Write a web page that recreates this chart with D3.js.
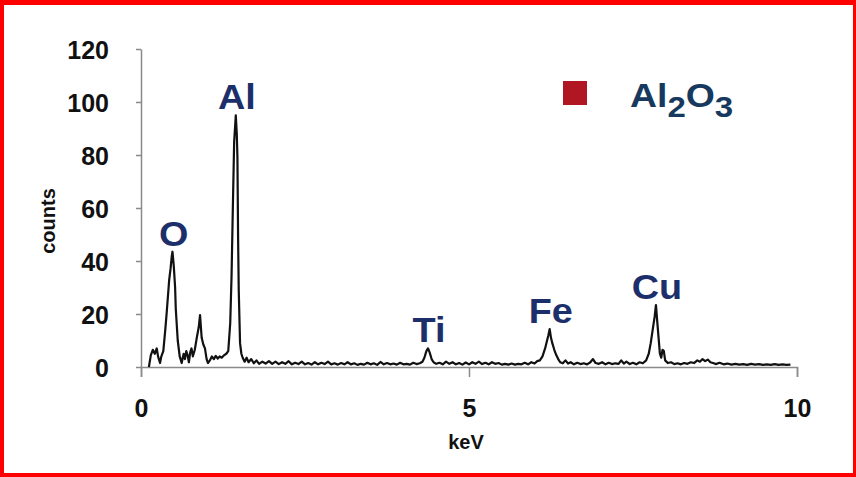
<!DOCTYPE html>
<html>
<head>
<meta charset="utf-8">
<script src="https://cdn.jsdelivr.net/npm/d3@7"></script>
<style>
  html, body { margin: 0; padding: 0; background: #fff; }
  svg { display: block; }
  text { font-family: "Liberation Sans", Arial, sans-serif; font-weight: bold; }
</style>
</head>
<body>
<svg id="chart" width="856" height="477"></svg>
<script>
// EDS spectrum of an Al2O3 sample: energy (keV) and detector counts
const energy = [
  0.12, 0.15, 0.18, 0.21, 0.24, 0.26, 0.29, 0.31, 0.34, 0.37, 0.39, 0.41, 0.43, 0.45, 0.47, 0.48,
  0.50, 0.52, 0.53, 0.56, 0.59, 0.62, 0.65, 0.67, 0.69, 0.71, 0.73, 0.75, 0.77, 0.79, 0.82, 0.85,
  0.88, 0.90, 0.925, 0.95, 0.975, 1.00, 1.02, 1.05, 1.08, 1.11, 1.14, 1.17, 1.20, 1.23, 1.27, 1.30,
  1.33, 1.36, 1.38, 1.40, 1.42, 1.445, 1.46, 1.47, 1.48, 1.49, 1.51, 1.53, 1.55, 1.58, 1.61, 1.64,
  1.68, 1.72, 1.76, 1.80, 1.85, 1.90, 1.95, 2.00, 2.05, 2.10, 2.15, 2.20, 2.25, 2.30, 2.35, 2.40,
  2.45, 2.50, 2.55, 2.60, 2.65, 2.70, 2.75, 2.80, 2.85, 2.90, 2.95, 3.00, 3.05, 3.10, 3.15, 3.20,
  3.25, 3.30, 3.35, 3.40, 3.45, 3.50, 3.55, 3.60, 3.65, 3.70, 3.75, 3.80, 3.85, 3.90, 3.95, 4.00,
  4.05, 4.10, 4.15, 4.20, 4.25, 4.29, 4.32, 4.35, 4.375, 4.40, 4.43, 4.46, 4.50, 4.55, 4.60, 4.65,
  4.70, 4.75, 4.80, 4.85, 4.90, 4.95, 5.00, 5.05, 5.10, 5.15, 5.20, 5.25, 5.30, 5.35, 5.40, 5.45,
  5.50, 5.55, 5.60, 5.65, 5.70, 5.75, 5.80, 5.85, 5.90, 5.95, 6.00, 6.04, 6.08, 6.12, 6.16, 6.19,
  6.21, 6.23, 6.25, 6.27, 6.30, 6.33, 6.36, 6.39, 6.43, 6.47, 6.51, 6.55, 6.60, 6.65, 6.70, 6.75,
  6.80, 6.85, 6.89, 6.93, 6.98, 7.03, 7.08, 7.13, 7.18, 7.23, 7.28, 7.32, 7.36, 7.40, 7.45, 7.50,
  7.55, 7.60, 7.65, 7.70, 7.74, 7.77, 7.80, 7.83, 7.85, 7.87, 7.89, 7.91, 7.93, 7.95, 7.97, 7.99,
  8.03, 8.08, 8.13, 8.18, 8.23, 8.28, 8.33, 8.38, 8.43, 8.48, 8.52, 8.56, 8.60, 8.64, 8.68, 8.72,
  8.76, 8.82, 8.88, 8.94, 9.00, 9.06, 9.12, 9.18, 9.24, 9.30, 9.36, 9.42, 9.48, 9.54, 9.60, 9.66,
  9.72, 9.78, 9.84, 9.90
];
const counts = [
  0.0, 4.5, 6.5, 5.0, 7.0, 4.0, 1.5, 4.0, 6.0, 14.0, 20.0, 26.5, 33.0, 37.0, 42.0, 43.5,
  38.0, 30.0, 22.0, 10.0, 4.0, 1.5, 5.0, 3.0, 6.0, 4.5, 1.8, 5.5, 7.0, 4.0, 6.5, 11.0,
  15.0, 19.6, 11.0, 8.5, 7.0, 3.0, 1.5, 2.5, 4.0, 3.0, 4.2, 3.2, 4.0, 3.5, 4.5, 5.0,
  6.0, 16.5, 34.0, 60.0, 85.0, 95.0, 88.0, 79.0, 49.0, 29.0, 9.0, 5.0, 3.5, 2.0, 3.5, 1.8,
  3.0, 1.4, 2.5, 1.2, 2.0, 1.3, 2.2, 1.2, 2.0, 1.1, 1.8, 1.2, 2.2, 1.0, 1.6, 1.1,
  2.0, 1.0, 1.5, 0.9, 1.8, 1.0, 1.6, 1.1, 2.0, 1.0, 1.4, 0.9, 1.5, 1.0, 1.8, 1.0,
  1.4, 0.8, 1.2, 0.9, 1.6, 1.0, 1.4, 0.8, 1.9, 1.0, 1.5, 1.0, 1.3, 0.9, 1.6, 1.0,
  1.2, 0.9, 1.6, 1.1, 1.4, 2.0, 3.5, 6.0, 7.0, 5.5, 3.0, 1.8, 1.2, 1.6, 1.0, 2.0,
  1.2, 1.8, 1.0, 1.5, 0.9, 1.7, 1.0, 1.8, 1.2, 2.0, 1.1, 1.6, 1.0, 1.8, 1.2, 1.5,
  0.9, 1.2, 0.9, 1.3, 0.9, 1.2, 1.0, 1.6, 1.0, 1.8, 1.3, 2.2, 2.5, 4.0, 7.0, 10.0,
  12.0, 14.3, 11.0, 9.0, 6.5, 4.5, 3.0, 1.8, 1.4, 2.5, 1.3, 1.8, 1.0, 1.6, 1.1, 1.4,
  1.0, 1.8, 3.0, 1.5, 1.2, 1.8, 1.0, 1.6, 1.1, 1.4, 1.2, 2.5, 1.3, 2.0, 1.1, 1.6,
  1.0, 1.8, 1.4, 2.5, 5.0, 9.0, 14.0, 19.0, 23.4, 17.0, 11.0, 5.0, 3.5, 6.5, 6.0, 2.5,
  1.5, 1.8, 1.1, 1.4, 1.0, 1.5, 1.2, 1.8, 1.5, 2.5, 2.0, 3.0, 2.2, 2.8, 1.8, 1.5,
  1.1, 1.6, 1.0, 1.3, 0.9, 1.2, 0.9, 1.1, 0.8, 1.2, 0.9, 1.1, 0.8, 1.0, 0.8, 1.1,
  0.8, 1.0, 0.8, 0.9
];

// Element peaks that get a label above them
const peakNames  = ["O", "Al", "Ti", "Fe", "Cu"];
const peakEnergy = [0.483, 1.445, 4.375, 6.23, 7.85];
const peakCounts = [43.5, 95, 7, 14.3, 23.4];

const xTicks = [0, 5, 10];
const yTicks = [0, 20, 40, 60, 80, 100, 120];
const xTitle = "keV";
const yTitle = "counts";
const legendParts = [["Al", false], ["2", true], ["O", false], ["3", true]];

const W = 856, H = 477;
const svg = d3.select("#chart");

svg.append("rect").attr("width", W).attr("height", H).attr("fill", "#fff");

const x = d3.scaleLinear().domain([0, 10]).range([141, 797]);
const y = d3.scaleLinear().domain([0, 120]).range([367, 49]);

const axisColor = "#8a8a8a";
const labelColor = "#1d2f6b";
const font = "Liberation Sans, Arial, sans-serif";

// x axis
const gx = svg.append("g").attr("transform", `translate(0,${y(0)})`)
  .call(d3.axisBottom(x).tickValues(xTicks).tickSize(10).tickPadding(22).tickFormat(d3.format("d")));
gx.select(".domain").attr("stroke", axisColor).attr("stroke-width", 1.5);
gx.selectAll(".tick line").attr("stroke", axisColor).attr("stroke-width", 1.5);
gx.selectAll(".tick text").attr("fill", "#111").attr("font-size", 25)
  .attr("font-family", font).attr("font-weight", "bold");

// y axis
const gy = svg.append("g").attr("transform", `translate(${x(0)},0)`)
  .call(d3.axisLeft(y).tickValues(yTicks).tickSize(5).tickSizeOuter(0).tickPadding(27));
gy.select(".domain").attr("stroke", axisColor).attr("stroke-width", 1.5);
gy.selectAll(".tick line").attr("stroke", axisColor).attr("stroke-width", 1.5);
gy.selectAll(".tick text").attr("fill", "#111").attr("font-size", 25)
  .attr("font-family", font).attr("font-weight", "bold")
  .attr("dy", "0.36em");

// axis titles
svg.append("text").attr("x", 466).attr("y", 449).attr("text-anchor", "middle")
  .attr("font-size", 20).attr("fill", "#111").text(xTitle);
svg.append("text").attr("transform", "translate(55,221) rotate(-90)").attr("text-anchor", "middle")
  .attr("font-size", 20).attr("fill", "#111").text(yTitle);

// spectrum trace
const pts = energy.map((e, i) => [e, counts[i]]);
svg.append("path").datum(pts)
  .attr("fill", "none").attr("stroke", "#111").attr("stroke-width", 2.2)
  .attr("stroke-linejoin", "round")
  .attr("d", d3.line().x(d => x(d[0])).y(d => y(d[1])));

// element labels over peaks
svg.selectAll("text.peak").data(peakNames).join("text")
  .attr("class", "peak")
  .attr("transform", (d, i) => `translate(${x(peakEnergy[i]) + 1},${y(peakCounts[i]) - 6}) scale(1.08,1)`)
  .attr("text-anchor", "middle").attr("font-size", 35).attr("fill", labelColor)
  .text(d => d);

// legend
svg.append("rect").attr("x", 563).attr("y", 81).attr("width", 24).attr("height", 24)
  .attr("fill", "#b01722");
const lt = svg.append("text").attr("transform", "translate(630,107) scale(1.1,1)")
  .attr("font-size", 34).attr("fill", "#17395d");
legendParts.forEach(([s, sub]) => {
  lt.append("tspan").attr("font-size", sub ? 30 : 34)
    .attr("dy", sub ? 10 : (s === "O" ? -10 : 0)).text(s);
});

// red frame
const frame = svg.append("g").attr("fill", "#ff0000");
frame.append("rect").attr("x", 0).attr("y", 0).attr("width", W).attr("height", 5);
frame.append("rect").attr("x", 0).attr("y", H - 4).attr("width", W).attr("height", 4);
frame.append("rect").attr("x", 0).attr("y", 0).attr("width", 4).attr("height", H);
frame.append("rect").attr("x", W - 3).attr("y", 0).attr("width", 3).attr("height", H);
</script>
</body>
</html>
